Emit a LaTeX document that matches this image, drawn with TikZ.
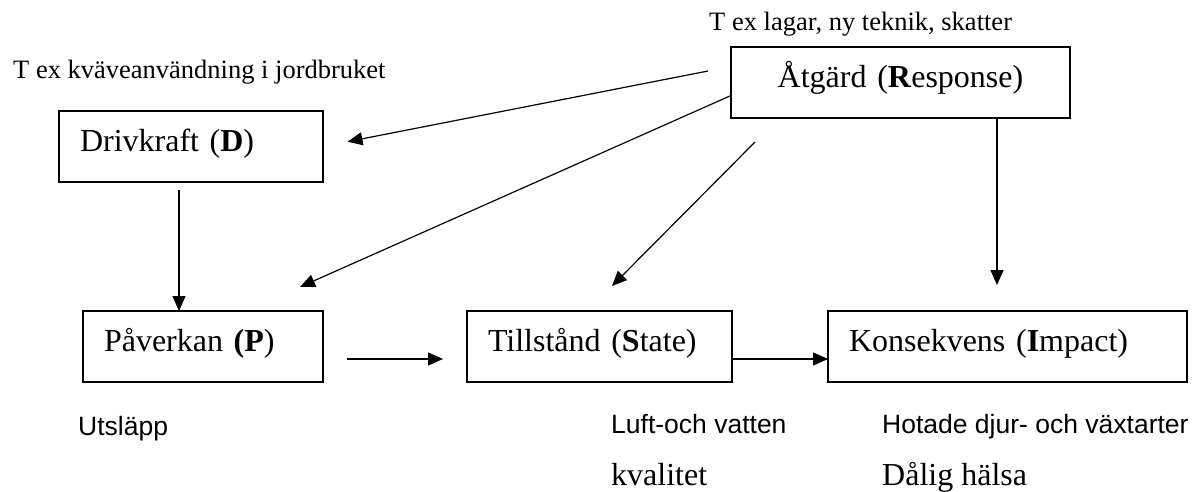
\documentclass[tikz,border=0pt]{standalone}
\usepackage{fontspec}
\setmainfont{Liberation Serif}
\setsansfont{Liberation Sans}
\usetikzlibrary{arrows.meta,calc}
\tikzset{box/.style={draw,line width=2pt,rectangle,anchor=north west,outer sep=0pt,
 inner xsep=21pt,inner ysep=0pt,minimum height=71pt,text height=22pt,text depth=13pt,
 align=left,font=\fontsize{32}{38}\selectfont},
 link/.style={-{Triangle[length=15pt,width=13pt]},line width=1.2pt},
 note/.style={anchor=base west,inner sep=0pt,font=\fontsize{26.5}{32}\selectfont},
 sansnote/.style={note,font=\fontsize{26.5}{32}\selectfont\sffamily},
 bignote/.style={note,font=\fontsize{32}{38}\selectfont}}

\begin{document}
\begin{tikzpicture}[x=1pt,y=-1pt]
\useasboundingbox (0,0) rectangle (1197,491);
\node[box,minimum width=339pt,text width=297pt,align=center] (atg) at (731,47) {Åtgärd (\textbf{R}esponse)};
\node[box,minimum width=264pt,text width=222pt] (drv) at (59,111) {Drivkraft (\textbf{D})};
\node[box,minimum width=240pt,text width=198pt] (pav) at (83,311) {Påverkan \textbf{(P})};
\node[box,minimum width=265pt,text width=223pt] (til) at (467,311) {Tillstånd (\textbf{S}tate)};
\node[box,minimum width=359pt,text width=317pt] (kon) at (828,311) {Konsekvens (\textbf{I}mpact)};
\node[note] (atgnote) at (709,30) {T ex lagar, ny teknik, skatter};
\node[note] (drvnote) at (13,78) {T ex kväveanvändning i jordbruket};
\node[sansnote] (pavnote) at (78,435) {Utsläpp};
\node[sansnote] (tilnote) at (611,433) {Luft-och vatten};
\node[bignote] (tilnote2) at (611,485) {kvalitet};
\node[sansnote] (konnote) at (882,433) {Hotade djur- och växtarter};
\node[bignote] (konnote2) at (882,485) {Dålig hälsa};
\coordinate (a1) at (708,71);
\draw[link,shorten >=25pt] (a1) -- (drv.east);
\draw[link] ($(atg.west)+(0,13)$) -- ($(pav.north)+(97,-24)$);
\draw[link] ($(atg.south west)+(24,24)$) -- ($(til.north)+(12.5,-25)$);
\draw[link] ($(atg.south)+(96.5,0)$) -- ($(kon.north)+(-10.5,-26)$);
\draw[link] ($(drv.south)+(-12,8)$) -- ($(pav.north)+(-24,0)$);
\draw[link] ($(pav.east)+(24,12.5)$) -- ($(til.west)+(-24,12.5)$);
\draw[link] ($(til.east)+(0,12.5)$) -- ($(kon.west)+(0,12.5)$);
\end{tikzpicture}
\end{document}
